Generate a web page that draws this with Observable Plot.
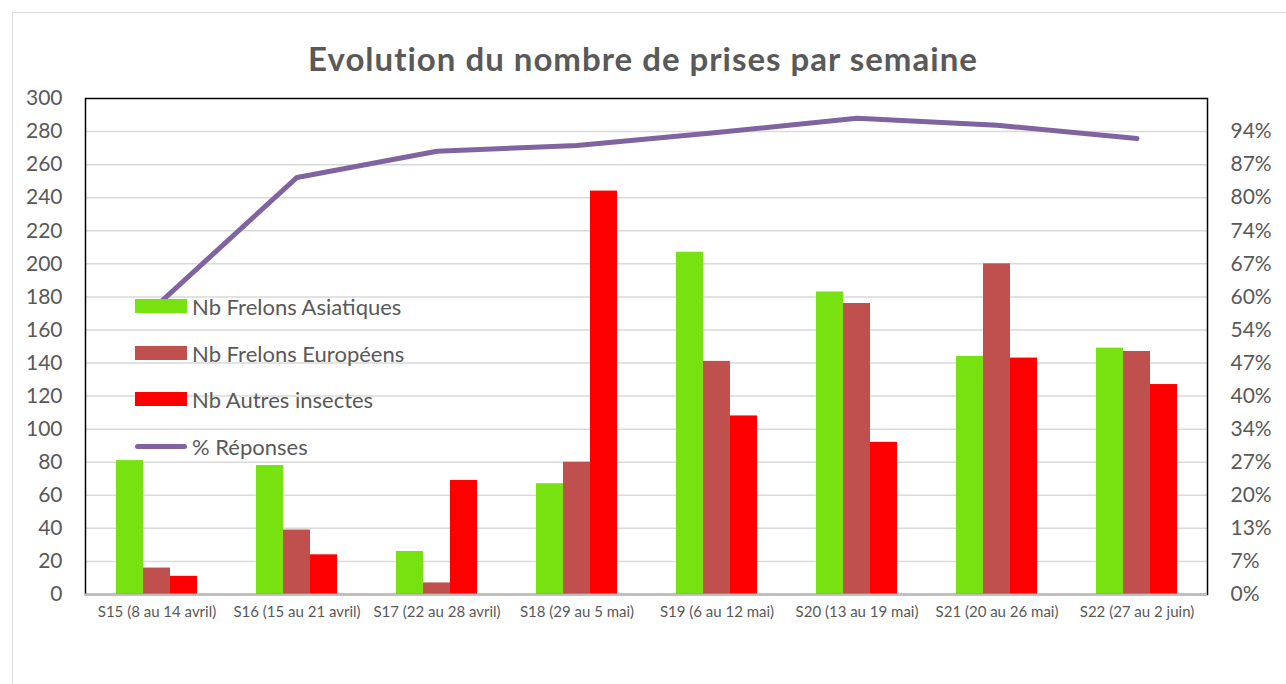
<!DOCTYPE html>
<html>
<head>
<meta charset="utf-8">
<script src="https://cdn.jsdelivr.net/npm/d3@7"></script>
<script src="https://cdn.jsdelivr.net/npm/@observablehq/plot@0.6"></script>
<style>
  html, body { margin: 0; padding: 0; background: #fff; overflow: hidden; }
  #page { position: relative; width: 1286px; height: 684px; font-family: Lato, "Open Sans", sans-serif; color: #595959; }
  #border { position: absolute; left: 12px; top: 12px; width: 1300px; height: 700px; border: 1px solid #d9d9d9; }
  #title { position: absolute; left: 0; width: 1286px; top: 38px; line-height: 40px; text-align: center; font-size: 33px; letter-spacing: 1px; font-weight: bold; }
  #chart { position: absolute; left: 0; top: 80px; }
  #legend { position: absolute; left: 0; top: 0; }
  .row { position: absolute; left: 135px; height: 30px; display: flex; align-items: center; font-size: 22px; white-space: nowrap; }
  .sw { width: 52px; height: 14px; margin-right: 5px; }
  .ln { width: 52px; height: 5px; border-radius: 3px; margin-right: 5px; }
</style>
</head>
<body>
<div id="page">
  <div id="border"></div>
  <div id="title">Evolution du nombre de prises par semaine</div>
  <div id="chart"></div>
  <div id="legend"></div>
</div>
<script>
const weeks = ["S15 (8 au 14 avril)", "S16 (15 au 21 avril)", "S17 (22 au 28 avril)", "S18 (29 au 5 mai)", "S19 (6 au 12 mai)", "S20 (13 au 19 mai)", "S21 (20 au 26 mai)", "S22 (27 au 2 juin)"];
const asiatiques = [81, 78, 26, 67, 207, 183, 144, 149];
const europeens = [16, 39, 7, 80, 141, 176, 200, 147];
const autres = [11, 24, 69, 244, 108, 92, 143, 127];
const reponses = [0.586, 0.845, 0.898, 0.910, 0.936, 0.965, 0.951, 0.924];
const seriesNames = ["Nb Frelons Asiatiques", "Nb Frelons Européens", "Nb Autres insectes", "% Réponses"];
const seriesColors = ["#77e20f", "#c0504d", "#ff0000", "#8064a2"];
const leftTicks = [0, 20, 40, 60, 80, 100, 120, 140, 160, 180, 200, 220, 240, 260, 280, 300];
const gridTicks = [20, 40, 60, 80, 100, 120, 140, 160, 180, 200, 220, 240, 260, 280];
const rightTicks = [0, 20, 40, 60, 80, 100, 120, 140, 160, 180, 200, 220, 240, 260, 280];
const rightLabels = ["0%", "7%", "13%", "20%", "27%", "34%", "40%", "47%", "54%", "60%", "67%", "74%", "80%", "87%", "94%"];
const leftMax = 300;
const rightMax = 1.005; // share at the top of the left axis

const barTable = (vals) => weeks.map((w, i) => ({week: w, value: vals[i]}));
const lineTable = weeks.map((w, i) => ({week: w, value: reponses[i] * leftMax / rightMax}));

const chart = Plot.plot({
  width: 1286,
  height: 604,
  marginTop: 18,
  marginBottom: 90,
  marginLeft: 85,
  marginRight: 79,
  style: {fontFamily: "Lato, 'Open Sans', sans-serif", color: "#595959", background: "transparent"},
  x: {domain: weeks, paddingInner: 0.8075, paddingOuter: 0.40375, axis: null},
  y: {domain: [0, leftMax], axis: null},
  marks: [
    Plot.ruleY(gridTicks, {stroke: "#d9d9d9", strokeWidth: 1.5}),
    Plot.barY(barTable(asiatiques), {x: "week", y: "value", fill: seriesColors[0], dx: -27}),
    Plot.barY(barTable(europeens), {x: "week", y: "value", fill: seriesColors[1]}),
    Plot.barY(barTable(autres), {x: "week", y: "value", fill: seriesColors[2], dx: 27}),
    Plot.line(lineTable, {x: "week", y: "value", stroke: seriesColors[3], strokeWidth: 5, strokeLinejoin: "round", strokeLinecap: "round"}),
    Plot.frame({stroke: "#000", strokeWidth: 1.5}),
    Plot.ruleY([0], {stroke: "#bfbfbf", strokeWidth: 2}),
    Plot.axisY(leftTicks, {anchor: "left", tickSize: 0, tickPadding: 23, fontSize: 21, label: null}),
    Plot.axisY(rightTicks, {anchor: "right", tickSize: 0, tickPadding: 23, fontSize: 21, label: null, tickFormat: d => rightLabels[rightTicks.indexOf(d)]}),
    Plot.axisX({tickSize: 0, tickPadding: 12, fontSize: 15, label: null})
  ]
});
document.getElementById("chart").appendChild(chart);

const legendTops = [306, 353, 399, 446];
const legend = document.getElementById("legend");
seriesNames.forEach((name, i) => {
  const row = document.createElement("div");
  row.className = "row";
  row.style.top = (legendTops[i] - 15) + "px";
  const sw = document.createElement("div");
  sw.className = i === 3 ? "ln" : "sw";
  sw.style.background = seriesColors[i];
  row.appendChild(sw);
  const t = document.createElement("span");
  t.textContent = name;
  row.appendChild(t);
  legend.appendChild(row);
});
</script>
</body>
</html>
